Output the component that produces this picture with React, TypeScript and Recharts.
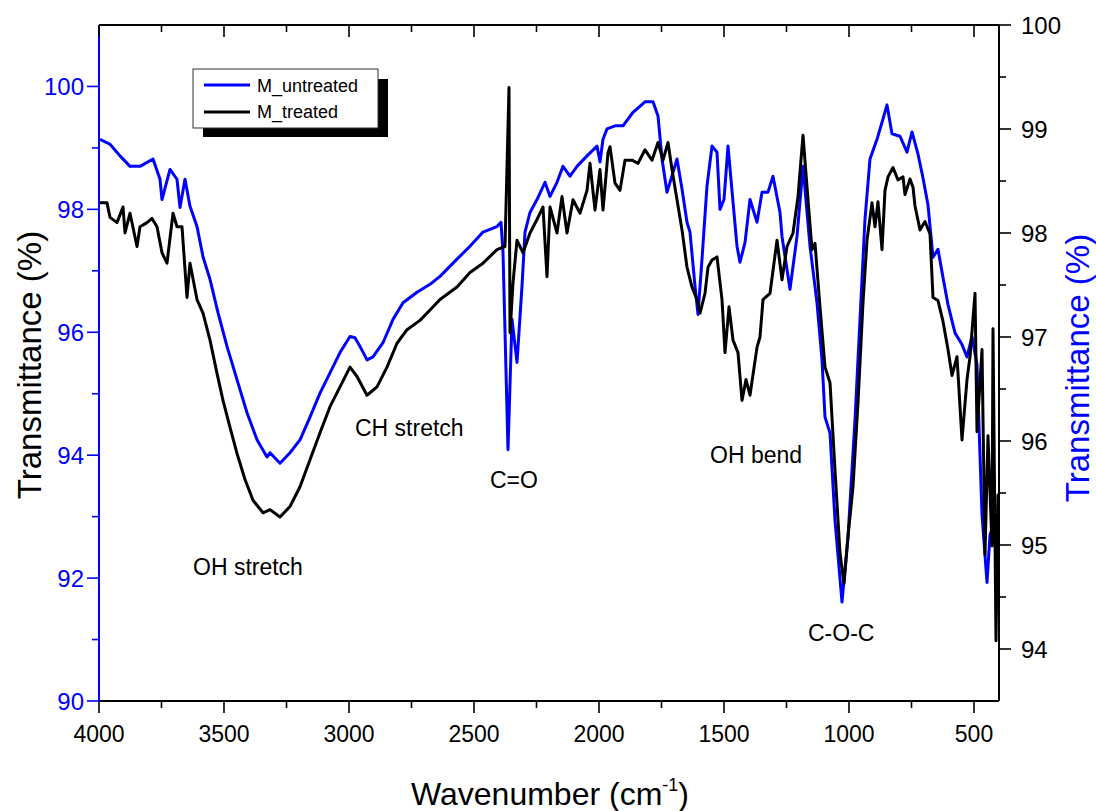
import { LineChart, Line, XAxis, YAxis } from "recharts";

// M_untreated (left axis, %)
const untreatedWave = [
  3996, 3956, 3916, 3876, 3836, 3784, 3756, 3748, 3716, 3688, 3676, 3656, 3636, 3608, 3584, 3556,
  3524, 3488, 3448, 3408, 3368, 3328, 3316, 3276, 3236, 3196, 3156, 3116, 3076, 3036, 2996, 2976,
  2956, 2928, 2904, 2864, 2824, 2784, 2728, 2676, 2636, 2568, 2516, 2464, 2408, 2392, 2384, 2364,
  2348, 2328, 2308, 2296, 2276, 2248, 2216, 2196, 2168, 2144, 2116, 2088, 2048, 2008, 1996, 1984,
  1968, 1936, 1904, 1864, 1816, 1784, 1764, 1748, 1728, 1716, 1688, 1668, 1648, 1636, 1616, 1604,
  1588, 1568, 1548, 1528, 1516, 1500, 1484, 1464, 1448, 1436, 1416, 1396, 1368, 1348, 1324, 1304,
  1276, 1268, 1236, 1208, 1184, 1156, 1128, 1108, 1096, 1076, 1056, 1028, 1004, 976, 956, 936,
  916, 888, 864, 848, 828, 796, 768, 748, 724, 704, 684, 664, 644, 624, 604, 576,
  548, 528, 508, 488, 468, 448, 436, 416, 400,
];
const untreatedT = [
  99.14, 99.06, 98.87, 98.7, 98.7, 98.82, 98.49, 98.16, 98.65, 98.49, 98.03, 98.49, 98.05, 97.72, 97.23, 96.86,
  96.32, 95.77, 95.23, 94.69, 94.25, 93.97, 94.04, 93.87, 94.04, 94.25, 94.62, 95.01, 95.34, 95.67, 95.93, 95.91,
  95.77, 95.55, 95.6, 95.83, 96.21, 96.48, 96.65, 96.78, 96.91, 97.19, 97.4, 97.63, 97.72, 97.79, 97.3, 94.09,
  96.21, 95.51, 96.75, 97.63, 97.95, 98.16, 98.44, 98.21, 98.44, 98.7, 98.54, 98.7, 98.87, 99.03, 98.77, 99.14,
  99.31, 99.36, 99.36, 99.58, 99.75, 99.75, 99.52, 98.82, 98.28, 98.44, 98.82, 98.33, 97.79, 97.63, 96.75, 96.29,
  97.19, 98.38, 99.03, 98.93, 98.0, 98.16, 99.03, 98.12, 97.4, 97.14, 97.46, 98.16, 97.79, 98.28, 98.28, 98.54,
  97.95, 97.56, 96.7, 97.56, 98.7, 97.4, 96.48, 95.55, 94.62, 94.36, 92.94, 91.61, 92.67, 94.58, 96.21, 97.84,
  98.82, 99.14, 99.47, 99.7, 99.23, 99.19, 98.93, 99.26, 98.9, 98.51, 98.07, 97.22, 97.35, 96.89, 96.45, 95.99,
  95.8, 95.6, 95.93, 95.47, 93.03, 91.93, 92.7, 92.95, 92.78,
];

// M_treated (right axis, %)
const treatedWave = [
  3996, 3968, 3956, 3928, 3904, 3896, 3876, 3848, 3836, 3808, 3788, 3768, 3748, 3728, 3704, 3688,
  3668, 3648, 3636, 3608, 3584, 3556, 3528, 3504, 3476, 3448, 3416, 3384, 3344, 3316, 3276, 3236,
  3196, 3156, 3116, 3076, 3036, 2996, 2968, 2928, 2888, 2848, 2808, 2768, 2716, 2676, 2636, 2568,
  2516, 2464, 2408, 2376, 2360, 2356, 2344, 2328, 2304, 2276, 2248, 2224, 2208, 2196, 2168, 2148,
  2128, 2104, 2076, 2048, 2036, 2016, 1996, 1984, 1964, 1956, 1936, 1916, 1896, 1868, 1844, 1816,
  1788, 1764, 1744, 1724, 1708, 1688, 1668, 1648, 1628, 1608, 1596, 1576, 1564, 1548, 1528, 1508,
  1496, 1480, 1464, 1444, 1428, 1412, 1396, 1368, 1356, 1344, 1316, 1288, 1268, 1248, 1224, 1204,
  1184, 1164, 1148, 1136, 1116, 1096, 1076, 1056, 1036, 1020, 1004, 984, 964, 944, 928, 908,
  896, 884, 868, 856, 844, 824, 804, 784, 776, 756, 744, 736, 716, 696, 676, 664,
  644, 624, 604, 588, 568, 548, 528, 516, 496, 488, 468, 456, 444, 428, 424, 412,
  404, 400,
];
const treatedT = [
  98.29, 98.29, 98.15, 98.1, 98.25, 98.0, 98.19, 97.87, 98.06, 98.1, 98.14, 98.06, 97.81, 97.71, 98.19, 98.06,
  98.06, 97.38, 97.71, 97.36, 97.23, 96.97, 96.65, 96.39, 96.13, 95.88, 95.63, 95.43, 95.31, 95.34, 95.27, 95.37,
  95.56, 95.82, 96.08, 96.33, 96.52, 96.71, 96.62, 96.44, 96.52, 96.71, 96.94, 97.07, 97.16, 97.26, 97.36, 97.48,
  97.62, 97.71, 97.84, 97.87, 99.4, 97.04, 97.52, 97.93, 97.81, 98.0, 98.13, 98.25, 97.58, 98.25, 98.0, 98.35,
  98.0, 98.32, 98.19, 98.41, 98.67, 98.22, 98.61, 98.22, 98.77, 98.83, 98.48, 98.41, 98.7, 98.7, 98.67, 98.8,
  98.7, 98.87, 98.7, 98.87, 98.61, 98.32, 98.03, 97.67, 97.48, 97.36, 97.23, 97.42, 97.67, 97.74, 97.77, 97.36,
  96.85, 97.29, 96.97, 96.85, 96.39, 96.59, 96.44, 96.9, 97.0, 97.36, 97.42, 97.93, 97.55, 97.87, 98.0, 98.35,
  98.94, 98.32, 97.84, 97.9, 97.29, 96.71, 96.56, 95.72, 94.92, 94.63, 95.08, 95.56, 96.37, 97.33, 97.93, 98.29,
  98.06, 98.3, 97.84, 98.41, 98.54, 98.63, 98.51, 98.54, 98.37, 98.52, 98.44, 98.26, 98.03, 98.11, 97.99, 97.38,
  97.35, 97.15, 96.88, 96.63, 96.81, 96.01, 96.59, 96.81, 97.42, 96.09, 96.88, 94.91, 96.05, 94.99, 97.08, 94.08,
  95.48, 95.2,
];

const xTicks = [4000, 3750, 3500, 3250, 3000, 2750, 2500, 2250, 2000, 1750, 1500, 1250, 1000, 750, 500];
const leftTicks = [90, 91, 92, 93, 94, 95, 96, 97, 98, 99, 100];
const rightTicks = [94, 94.5, 95, 95.5, 96, 96.5, 97, 97.5, 98, 98.5, 99, 99.5, 100];

const BLUE = "#0000ff";
const FONT = '"Liberation Sans", Arial, Helvetica, sans-serif';

const untreated = untreatedWave.map((w, i) => ({ w, t: untreatedT[i] }));
const treated = treatedWave.map((w, i) => ({ w, t: treatedT[i] }));

function BottomTick(props: any) {
  const { x, y, payload } = props;
  const major = payload.value % 500 === 0;
  return (
    <g>
      <line x1={x} x2={x} y1={y} y2={y + (major ? 12 : 7)} stroke="#000" strokeWidth={1.6} />
      {major && (
        <text x={x} y={y + 41} textAnchor="middle" fontSize={23} fontFamily={FONT} fill="#000">
          {payload.value}
        </text>
      )}
    </g>
  );
}

function TopTick(props: any) {
  const { x, y, payload } = props;
  const major = payload.value % 500 === 0;
  return <line x1={x} x2={x} y1={y} y2={y + (major ? 12 : 7)} stroke="#000" strokeWidth={1.6} />;
}

function LeftTick(props: any) {
  const { x, y, payload } = props;
  const major = payload.value % 2 === 0;
  return (
    <g>
      <line x1={x} x2={x - (major ? 12 : 7)} y1={y} y2={y} stroke={BLUE} strokeWidth={1.6} />
      {major && (
        <text x={x - 15} y={y} dy="0.36em" textAnchor="end" fontSize={24} fontFamily={FONT} fill={BLUE}>
          {payload.value}
        </text>
      )}
    </g>
  );
}

function RightTick(props: any) {
  const { x, y, payload } = props;
  const major = Number.isInteger(payload.value);
  return (
    <g>
      <line x1={x} x2={x + (major ? 12 : 7)} y1={y} y2={y} stroke="#000" strokeWidth={1.6} />
      {major && (
        <text x={x + 22} y={y} dy="0.36em" textAnchor="start" fontSize={24} fontFamily={FONT} fill="#000">
          {payload.value}
        </text>
      )}
    </g>
  );
}

export default function App() {
  return (
    <div style={{ position: "absolute", left: 0, top: 0, width: 1096, height: 811, background: "#fff" }}>
      <LineChart width={1096} height={811} margin={{ top: 0, right: 0, bottom: 0, left: 0 }}>
        <XAxis
          xAxisId="b"
          type="number"
          dataKey="w"
          domain={[400, 4000]}
          reversed
          allowDataOverflow
          ticks={xTicks}
          interval={0}
          height={110}
          tickSize={0}
          tickMargin={0}
          tickLine={false}
          tick={(p: any) => <BottomTick {...p} />}
          axisLine={{ stroke: "#000", strokeWidth: 2 }}
        />
        <XAxis
          xAxisId="t"
          orientation="top"
          type="number"
          dataKey="w"
          domain={[400, 4000]}
          reversed
          allowDataOverflow
          ticks={xTicks}
          interval={0}
          height={25}
          tickSize={0}
          tickMargin={0}
          tickLine={false}
          tick={(p: any) => <TopTick {...p} />}
          axisLine={{ stroke: "#000", strokeWidth: 2 }}
        />
        <YAxis
          yAxisId="l"
          type="number"
          domain={[90, 101]}
          allowDataOverflow
          ticks={leftTicks}
          interval={0}
          width={99}
          tickSize={0}
          tickMargin={0}
          tickLine={false}
          tick={(p: any) => <LeftTick {...p} />}
          axisLine={{ stroke: BLUE, strokeWidth: 2 }}
        />
        <YAxis
          yAxisId="r"
          orientation="right"
          type="number"
          domain={[93.5, 100]}
          allowDataOverflow
          ticks={rightTicks}
          interval={0}
          width={97}
          tickSize={0}
          tickMargin={0}
          tickLine={false}
          tick={(p: any) => <RightTick {...p} />}
          axisLine={{ stroke: "#000", strokeWidth: 2 }}
        />
        <Line
          xAxisId="b"
          yAxisId="l"
          data={untreated}
          dataKey="t"
          type="linear"
          stroke={BLUE}
          strokeWidth={3}
          strokeLinejoin="round"
          dot={false}
          isAnimationActive={false}
        />
        <Line
          xAxisId="b"
          yAxisId="r"
          data={treated}
          dataKey="t"
          type="linear"
          stroke="#000"
          strokeWidth={3}
          strokeLinejoin="round"
          dot={false}
          isAnimationActive={false}
        />
      </LineChart>

      {/* titles, peak labels, legend */}
      <svg
        width={1096}
        height={811}
        style={{ position: "absolute", left: 0, top: 0, pointerEvents: "none" }}
        fontFamily={FONT}
      >
        <text x={29} y={365} transform="rotate(-90 29 365)" textAnchor="middle" dy="0.36em" fontSize={33} fill="#000">
          Transmittance (%)
        </text>
        <text x={1077} y={368} transform="rotate(-90 1077 368)" textAnchor="middle" dy="0.36em" fontSize={33} fill={BLUE}>
          Transmittance (%)
        </text>
        <text x={550} y={805} textAnchor="middle" fontSize={32} fill="#000">
          Wavenumber (cm
          <tspan fontSize={18} dy={-14}>-1</tspan>
          <tspan dy={14}>)</tspan>
        </text>

        <text x={193} y={575} fontSize={23}>OH stretch</text>
        <text x={355} y={436} fontSize={23}>CH stretch</text>
        <text x={490} y={488} fontSize={23}>C=O</text>
        <text x={710} y={463} fontSize={23}>OH bend</text>
        <text x={808} y={641} fontSize={23}>C-O-C</text>

        <rect x={203} y={79} width={185} height={58} fill="#000" />
        <rect x={193} y={69} width={185} height={59} fill="#fff" stroke="#333" strokeWidth={1} />
        <line x1={204} x2={250} y1={85} y2={85} stroke={BLUE} strokeWidth={3} />
        <text x={257} y={92} fontSize={18}>M_untreated</text>
        <line x1={204} x2={250} y1={112} y2={112} stroke="#000" strokeWidth={3} />
        <text x={257} y={118} fontSize={18}>M_treated</text>
      </svg>
    </div>
  );
}
